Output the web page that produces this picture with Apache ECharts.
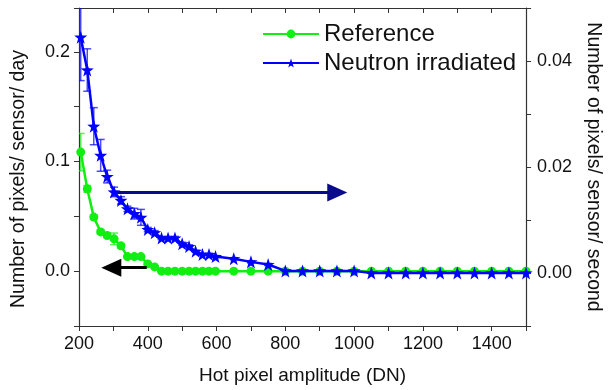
<!DOCTYPE html>
<html>
<head>
<meta charset="utf-8">
<title>Hot pixel amplitude</title>
<script src="https://cdn.jsdelivr.net/npm/echarts@6/dist/echarts.min.js"></script>
<style>
html,body{margin:0;padding:0;background:#fff;}
#chart{width:611px;height:390px;}
</style>
</head>
<body>
<div id="chart"></div>
<script>
// hot pixel amplitude bins (DN)
var amplitude = [205, 224, 243, 263, 282, 302, 322, 341, 361, 380, 400, 420, 440, 459, 479, 500, 520, 539, 559, 578, 597,
  650, 700, 750, 800, 850, 900, 950, 1000, 1050, 1100, 1150, 1200, 1250, 1300, 1350, 1400, 1450, 1500];

// reference sensor, pixels / sensor / day (left axis)
var refRate = [0.1086, 0.0751, 0.0493, 0.0358, 0.0325, 0.0295, 0.0231, 0.0133, 0.0133, 0.0133, 0.0066, 0.0039,
  0, 0, 0, 0, 0, 0, 0, 0, 0, 0, 0, 0, 0, 0, 0, 0, 0, 0, 0, 0, 0, 0, 0, 0, 0, 0, 0];
var refErr = [0.017, 0.003, 0.002, 0.002, 0.002, 0.0053, 0.002, 0.001, 0.001, 0.001, 0.001, 0.001,
  0, 0, 0, 0, 0, 0, 0, 0, 0, 0, 0, 0, 0, 0, 0, 0, 0, 0, 0, 0, 0, 0, 0, 0, 0, 0, 0];

// neutron irradiated sensor, pixels / sensor / second (right axis)
var neuRate = [0.0445, 0.0383, 0.0277, 0.0222, 0.0182, 0.0153, 0.0137, 0.0121, 0.0112, 0.0105, 0.0082, 0.0076,
  0.0066, 0.0066, 0.0066, 0.0055, 0.0050, 0.0041, 0.0035, 0.0035, 0.0031,
  0.0027, 0.0021, 0.0016, 0.0004, 0.0004, 0.0004, 0.0004, 0.0004, 0, 0, 0, 0, 0, 0, 0, 0, 0, 0];
var neuErr = [0.0082, 0.004, 0.0035, 0.003, 0.0012, 0.0009, 0.0007, 0.0005, 0.001, 0.0015, 0.0004, 0.0004,
  0.0003, 0.0003, 0.0003, 0.0003, 0.0003, 0.0002, 0.0002, 0.0002, 0.0002,
  0.0002, 0.0002, 0.0002, 0, 0, 0, 0, 0, 0, 0, 0, 0, 0, 0, 0, 0, 0, 0];

// arrows: [x start, x end], level on their own axis
var refArrowX = [397, 294], refArrowY = 0.0032;
var neuArrowX = [300, 951], neuArrowY = 0.0152;

var green = '#11ee11', blue = '#0000ff';
var font = "'Liberation Sans', Arial, sans-serif";
var star = 'path://M0,-10L2.35,-3.24L9.51,-3.09L3.8,1.24L5.88,8.09L0,4L-5.88,8.09L-3.8,1.24L-9.51,-3.09L-2.35,-3.24Z';

function pairs(xs, ys, es) {
  return xs.map(function (x, i) { return es ? [x, ys[i], es[i]] : [x, ys[i]]; });
}

function errorBars(color) {
  return function (params, api) {
    var x = api.value(0), y = api.value(1), e = api.value(2);
    if (!e) return;
    var hi = api.coord([x, y + e]);
    var lo = api.coord([x, y - e]);
    var w = 4;
    var st = {stroke: color, lineWidth: 1.5, opacity: 0.7};
    return {
      type: 'group',
      children: [
        {type: 'line', shape: {x1: hi[0], y1: hi[1], x2: lo[0], y2: lo[1]}, style: st},
        {type: 'line', shape: {x1: hi[0] - w, y1: hi[1], x2: hi[0] + w, y2: hi[1]}, style: st},
        {type: 'line', shape: {x1: lo[0] - w, y1: lo[1], x2: lo[0] + w, y2: lo[1]}, style: st}
      ]
    };
  };
}

var axisLine = {show: true, onZero: false, lineStyle: {color: '#333', width: 1.2}};
var labelStyle = {color: '#111', fontSize: 18, fontFamily: font};

var myChart = echarts.init(document.getElementById('chart'));
var option = {
  animation: false,
  backgroundColor: '#fff',
  grid: {left: 79, right: 84, top: 8, bottom: 64},
  legend: {
    orient: 'vertical',
    left: 262, top: 22,
    padding: 0,
    itemWidth: 56, itemHeight: 11, itemGap: 5,
    textStyle: {color: '#111', fontSize: 24, fontFamily: font, lineHeight: 24},
    data: ['Reference', 'Neutron irradiated']
  },
  xAxis: [{
    type: 'value',
    min: 200, max: 1500, interval: 100,
    name: 'Hot pixel amplitude (DN)',
    nameLocation: 'middle', nameGap: 40,
    nameTextStyle: {color: '#111', fontSize: 19, fontFamily: font},
    axisLine: axisLine,
    axisTick: {show: true, length: 5, lineStyle: {color: '#333'}},
    axisLabel: {
      margin: 9,
      textStyle: labelStyle,
      formatter: function (v) { return (v % 200 === 0 && v < 1500) ? String(v) : ''; }
    },
    splitLine: {show: false}
  }, {
    // top frame with inward ticks
    type: 'value',
    show: true,
    position: 'top',
    min: 200, max: 1500, interval: 100,
    axisLine: axisLine,
    axisTick: {show: true, inside: true, length: 5, lineStyle: {color: '#333'}},
    axisLabel: {show: false},
    splitLine: {show: false}
  }],
  yAxis: [{
    type: 'value',
    min: -0.05, max: 0.24, interval: 0.05,
    name: 'Number of pixels/ sensor/ day',
    nameLocation: 'middle', nameGap: 50,
    nameTextStyle: {color: '#111', fontSize: 19.5, fontFamily: font, padding: [0, 24, 0, 0]},
    axisLine: axisLine,
    axisTick: {show: true, length: 5, lineStyle: {color: '#333'}},
    axisLabel: {
      margin: 9,
      textStyle: labelStyle,
      formatter: function (v) {
        var t = v * 10;
        return (v > -0.01 && Math.abs(t - Math.round(t)) < 1e-6) ? v.toFixed(1) : '';
      }
    },
    splitLine: {show: false}
  }, {
    type: 'value',
    position: 'right',
    min: -0.01, max: 0.05, interval: 0.01,
    name: 'Number of pixels/ sensor/ second',
    nameLocation: 'middle', nameGap: 55, nameRotate: -90,
    nameTextStyle: {color: '#111', fontSize: 19.5, fontFamily: font},
    axisLine: axisLine,
    axisTick: {show: true, length: 5, lineStyle: {color: '#333'}},
    axisLabel: {
      margin: 11,
      textStyle: labelStyle,
      formatter: function (v) {
        var t = Math.round(v * 100);
        return (v > -0.005 && v < 0.045 && t % 2 === 0) ? v.toFixed(2) : '';
      }
    },
    splitLine: {show: false}
  }],
  series: [{
    name: 'Reference',
    type: 'line',
    xAxisIndex: 0, yAxisIndex: 0,
    symbol: 'circle', symbolSize: 9,
    lineStyle: {color: green, width: 2.5},
    itemStyle: {color: green},
    data: pairs(amplitude, refRate),
    markLine: {
      silent: true,
      symbol: ['none', 'triangle'],
      symbolSize: [18, 20],
      label: {show: false},
      lineStyle: {color: '#000', width: 3, type: 'solid'},
      data: [[{coord: [refArrowX[0], refArrowY]}, {coord: [refArrowX[1], refArrowY]}]]
    },
    z: 3
  }, {
    name: 'Reference err',
    type: 'custom',
    xAxisIndex: 0, yAxisIndex: 0,
    clip: true,
    encode: {x: 0, y: 1},
    renderItem: errorBars(green),
    data: pairs(amplitude, refRate, refErr),
    z: 2
  }, {
    name: 'Neutron irradiated',
    type: 'line',
    xAxisIndex: 0, yAxisIndex: 1,
    symbol: star, symbolSize: 13,
    lineStyle: {color: blue, width: 2.5},
    itemStyle: {color: blue},
    data: pairs(amplitude, neuRate),
    markLine: {
      silent: true,
      symbol: ['none', 'triangle'],
      symbolSize: [18, 20],
      label: {show: false},
      lineStyle: {color: '#0a0a8c', width: 3, type: 'solid'},
      data: [[{coord: [neuArrowX[0], neuArrowY]}, {coord: [neuArrowX[1], neuArrowY]}]]
    },
    z: 5
  }, {
    name: 'Neutron err',
    type: 'custom',
    xAxisIndex: 0, yAxisIndex: 1,
    clip: true,
    encode: {x: 0, y: 1},
    renderItem: errorBars(blue),
    data: pairs(amplitude, neuRate, neuErr),
    z: 4
  }]
};

myChart.setOption(option);
window.addEventListener("resize", function () {
  myChart.resize();
});
</script>
</body>
</html>
